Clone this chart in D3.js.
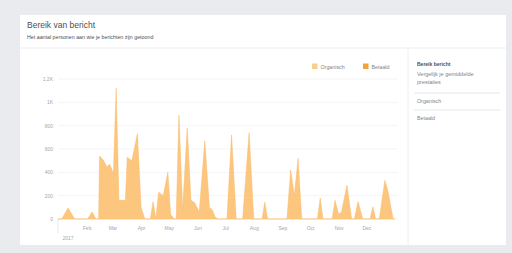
<!DOCTYPE html>
<html>
<head>
<meta charset="utf-8">
<script src="https://cdn.jsdelivr.net/npm/d3@7"></script>
<style>
  body { margin: 0; background: #e9ebee; }
  svg { display: block; font-family: "Liberation Sans", Arial, sans-serif; }
</style>
</head>
<body>
<div id="chart"></div>
<script>
      var width = 512;
      var height = 253;

      // reach per day (day offset from 1 Jan, value)
      var startDate = new Date(2017, 0, 1);
      var dayOffsets = [0, 4, 11, 18, 32, 37, 41, 44, 45, 49, 53, 56, 60, 63, 66, 73, 75, 80, 86, 90, 94,
            100, 103, 106, 109, 114, 119, 122, 126, 128, 131, 135, 140, 144, 148, 153, 159, 164, 167, 170, 173,
            183, 188, 193, 200, 207, 212, 221, 224, 227, 248, 252, 256, 260, 264, 281, 284, 287,
            297, 300, 304, 307, 313, 318, 321, 325, 330, 338, 341, 344, 348, 354, 357, 363, 365];
      var organicValues = [0, 0, 95, 0, 0, 60, 0, 0, 540, 505, 445, 470, 390, 1120, 160, 160, 530, 500, 730, 100, 0,
            0, 150, 0, 230, 200, 400, 40, 0, 0, 890, 80, 780, 160, 140, 60, 670, 100, 80, 20, 0,
            0, 720, 0, 0, 740, 0, 0, 145, 0, 0, 420, 200, 520, 0, 0, 180, 0,
            0, 160, 40, 60, 290, 0, 0, 150, 0, 0, 105, 0, 0, 330, 250, 0, 0];

      var yTicks = [0, 200, 400, 600, 800, 1000, 1200];
      var yTickLabels = ['0', '200', '400', '600', '800', '1K', '1,2K'];
      var monthLabels = ['Feb', 'Mar', 'Apr', 'May', 'Jun', 'Jul', 'Aug', 'Sep', 'Oct', 'Nov', 'Dec'];
      var yearLabel = '2017';
      var legendNames = ['Organisch', 'Betaald'];
      var legendColors = ['#f9cd8a', '#f2a43a'];
      var sideItems = ['Organisch', 'Betaald'];

      var data = dayOffsets.map((d, i) => ({ date: d3.timeDay.offset(startDate, d), value: organicValues[i] }));

      var svg = d3.select('#chart').append('svg')
          .attr('width', width)
          .attr('height', height)

      // white card
      svg.append('rect')
            .attr('x', 20).attr('y', 15)
            .attr('width', 486).attr('height', 230)
            .attr('fill', '#fff')
      svg.append('line')
            .attr('x1', 20).attr('x2', 506).attr('y1', 48).attr('y2', 48)
            .attr('stroke', '#eceef1')
      svg.append('line')
            .attr('x1', 408).attr('x2', 408).attr('y1', 48).attr('y2', 245)
            .attr('stroke', '#eceef1')

      svg.append('text')
            .attr('x', 27).attr('y', 28)
            .style('font-size', '8.5px')
            .attr('fill', '#4b4f56')
            .text('Bereik van bericht')
      svg.append('text')
            .attr('x', 27).attr('y', 38.5)
            .style('font-size', '5.3px')
            .attr('fill', '#4b4f56')
            .text('Het aantal personen aan wie je berichten zijn getoond')

      // scales
      var xScale = d3.scaleTime()
          .domain([startDate, new Date(2018, 0, 1)])
          .range([58, 395])
      var yScale = d3.scaleLinear()
          .domain([0, 1200])
          .range([219, 79])

      // gridlines
      svg.append('g')
            .selectAll('line')
            .data(yTicks)
            .enter()
            .append('line')
                  .attr('x1', 58).attr('x2', 398)
                  .attr('y1', d => yScale(d)).attr('y2', d => yScale(d))
                  .attr('stroke', '#f4f5f7')

      var yAxis = d3.axisLeft(yScale)
            .tickValues(yTicks)
            .tickFormat((d, i) => yTickLabels[i])
            .tickSize(0)
            .tickPadding(5);
      var gy = svg.append('g')
            .attr('transform', 'translate(58, 0)')
            .call(yAxis)
      gy.select('.domain').remove()
      gy.selectAll('text').attr('fill', '#a4a7ad').style('font-size', '5px')

      var monthTicks = monthLabels.map((m, i) => new Date(2017, i + 1, 1))
      var xAxis = d3.axisBottom(xScale)
            .tickValues(monthTicks)
            .tickFormat((d, i) => monthLabels[i])
            .tickSize(0)
            .tickPadding(7);
      var gx = svg.append('g')
            .attr('transform', 'translate(0, 219)')
            .call(xAxis)
      gx.select('.domain').remove()
      gx.selectAll('text').attr('fill', '#a4a7ad').style('font-size', '5px')

      svg.append('text')
            .attr('x', xScale(startDate) + 10).attr('y', 240)
            .style('text-anchor', 'middle')
            .style('font-size', '5px')
            .attr('fill', '#a4a7ad')
            .text(yearLabel)
      svg.append('line')
            .attr('x1', 58).attr('x2', 58).attr('y1', 219).attr('y2', 233)
            .attr('stroke', '#e8e9ec')

      // area
      var area = d3.area()
            .x(d => xScale(d.date))
            .y0(yScale(0))
            .y1(d => yScale(d.value))
      svg.append('path')
            .datum(data)
            .attr('d', area)
            .attr('fill', '#fcc67e')
            .attr('stroke', '#f9bb66')
            .attr('stroke-width', 0.5)

      // legend
      var legend = svg.append('g')
      var legendX = [312, 363]
      legendNames.forEach(function (name, i) {
            legend.append('rect')
                  .attr('x', legendX[i]).attr('y', 63.5)
                  .attr('width', 5.5).attr('height', 5.5)
                  .attr('fill', legendColors[i])
            legend.append('text')
                  .attr('x', legendX[i] + 8.5).attr('y', 68.5)
                  .style('font-size', '5.3px')
                  .attr('fill', '#7f8389')
                  .text(name)
      })

      // side panel
      svg.append('text')
            .attr('x', 417).attr('y', 66)
            .style('font-size', '5px')
            .style('font-weight', 'bold')
            .attr('fill', '#4b4f56')
            .text('Bereik bericht')
      svg.append('text')
            .attr('x', 417).attr('y', 75.5)
            .style('font-size', '5.5px')
            .attr('fill', '#7f8389')
            .text('Vergelijk je gemiddelde')
      svg.append('text')
            .attr('x', 417).attr('y', 84)
            .style('font-size', '5.5px')
            .attr('fill', '#7f8389')
            .text('prestaties')
      sideItems.forEach(function (name, i) {
            svg.append('line')
                  .attr('x1', 414).attr('x2', 500)
                  .attr('y1', 93 + i * 17).attr('y2', 93 + i * 17)
                  .attr('stroke', '#e5e6e9')
            svg.append('text')
                  .attr('x', 417).attr('y', 103 + i * 17)
                  .style('font-size', '5.3px')
                  .attr('fill', '#7f8389')
                  .text(name)
      })
</script>
</body>
</html>
